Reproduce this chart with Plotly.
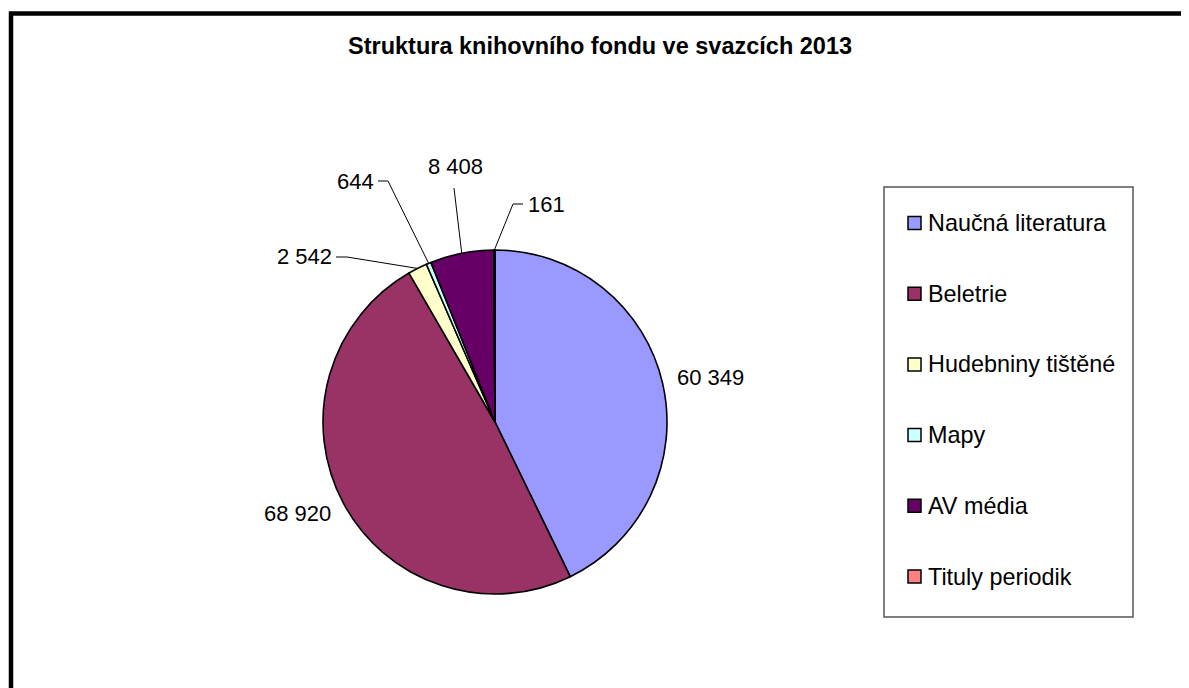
import math
import plotly.graph_objects as go

# ---------------- data ----------------
categories = ["Naučná literatura", "Beletrie", "Hudebniny tištěné", "Mapy", "AV média", "Tituly periodik"]
values = [60349, 68920, 2542, 644, 8408, 161]
colors = ["#9999FF", "#993366", "#FFFFCC", "#CCFFFF", "#660066", "#FF8080"]
title_text = "Struktura knihovního fondu ve svazcích 2013"

# ---------------- layout constants (pixels in the screenshot) ----------------
W, H = 1189, 688
OFF = 8  # page body margin
CX, CY, R = 495, 422, 172
FONT = "Liberation Sans, Arial, sans-serif"

# data label placement (anchor in pixels) and leader-line elbows
label_layout = [
    dict(x=675, y=378, xanchor="left", elbow=None),
    dict(x=333, y=513, xanchor="right", elbow=None),
    dict(x=334, y=257, xanchor="right", elbow=[(336, 257), (347, 257)]),
    dict(x=376, y=181, xanchor="right", elbow=[(378, 181), (388, 181)]),
    dict(x=455, y=167, xanchor="center", elbow=[(454, 188)]),
    dict(x=526, y=204, xanchor="left", elbow=[(523, 204), (513, 204)]),
]

LEG_BOX = (884, 187, 1133, 617)
LEG_X_MARK = 908
LEG_MARK = 13
LEG_Y0 = 223
LEG_STEP = 70.7


def px(x):
    return (x - OFF) / W


def py(y):
    return 1 - (y - OFF) / H


def fmt(v):
    return f"{v:,}".replace(",", " ")


fig = go.Figure()
fig.add_trace(go.Pie(
    labels=categories,
    values=values,
    sort=False,
    direction="clockwise",
    rotation=0,
    textinfo="none",
    marker=dict(colors=colors, line=dict(color="black", width=1.6)),
    domain=dict(x=[px(CX - R), px(CX + R)], y=[py(CY + R), py(CY - R)]),
    showlegend=False,
))

shapes = []
annotations = []

# outer chart border
shapes.append(dict(type="rect", xref="paper", yref="paper",
                   x0=px(11), y0=py(13.5), x1=px(W + 30), y1=py(H + 30),
                   line=dict(color="black", width=4.5)))

# data labels with leader lines
total = sum(values)
cum = 0.0
for v, lay in zip(values, label_layout):
    mid = (cum + v / 2) / total * 360.0
    cum += v
    t = math.radians(mid)
    ex, ey = CX + R * math.sin(t), CY - R * math.cos(t)
    annotations.append(dict(xref="paper", yref="paper", x=px(lay["x"]), y=py(lay["y"]),
                            xanchor=lay["xanchor"], yanchor="middle", showarrow=False,
                            text=fmt(v), font=dict(family=FONT, size=22, color="black")))
    if lay["elbow"]:
        pts = lay["elbow"] + [(ex, ey)]
        path = "M " + " L ".join(f"{px(a):.6f},{py(b):.6f}" for a, b in pts)
        shapes.append(dict(type="path", xref="paper", yref="paper", path=path,
                           line=dict(color="black", width=1)))

# manual legend
bx0, by0, bx1, by1 = LEG_BOX
shapes.append(dict(type="rect", xref="paper", yref="paper",
                   x0=px(bx0), y0=py(by0), x1=px(bx1), y1=py(by1),
                   line=dict(color="#555555", width=1.5)))
for i, (name, col) in enumerate(zip(categories, colors)):
    yc = LEG_Y0 + i * LEG_STEP
    shapes.append(dict(type="rect", xref="paper", yref="paper",
                       x0=px(LEG_X_MARK), y0=py(yc - LEG_MARK / 2),
                       x1=px(LEG_X_MARK + LEG_MARK), y1=py(yc + LEG_MARK / 2),
                       fillcolor=col, line=dict(color="black", width=1.5)))
    annotations.append(dict(xref="paper", yref="paper", x=px(LEG_X_MARK + LEG_MARK + 5), y=py(yc),
                            xanchor="left", yanchor="middle", showarrow=False,
                            text=name, font=dict(family=FONT, size=23.4, color="black")))

# title
annotations.append(dict(xref="paper", yref="paper", x=px(600), y=py(46),
                        xanchor="center", yanchor="middle", showarrow=False,
                        text="<b>" + title_text + "</b>",
                        font=dict(family=FONT, size=23.5, color="black")))

fig.update_layout(
    width=W, height=H,
    margin=dict(l=0, r=0, t=0, b=0),
    paper_bgcolor="white",
    plot_bgcolor="white",
    shapes=shapes,
    annotations=annotations,
)

fig.write_html("out.html")
